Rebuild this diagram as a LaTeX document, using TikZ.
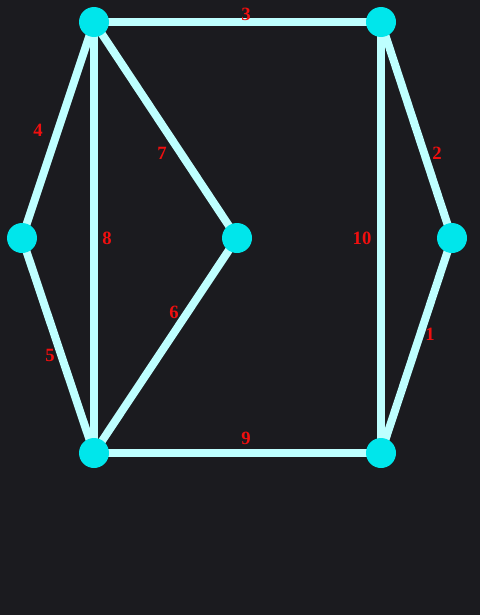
\documentclass[tikz,border=0pt]{standalone}
\usepackage{fontspec}
\setmainfont{Liberation Serif}
\usepackage{tikz}
\usetikzlibrary{backgrounds}
\definecolor{wood}{RGB}{27,27,31}
\definecolor{dotcyan}{RGB}{0,230,235}
\definecolor{linecyan}{RGB}{190,255,255}
\definecolor{numred}{RGB}{240,15,15}

\begin{document}
\begin{tikzpicture}[x=0.03cm,y=-0.03cm,
	vertex/.style={circle, fill=dotcyan, minimum size=0.9cm, inner sep=0pt},
	edge/.style={draw=linecyan, line width=0.24cm},
	num/.style={text=numred, font=\fontsize{16}{16}\selectfont\bfseries, inner sep=0pt}]
	\useasboundingbox (0,0) rectangle (480,615);
	% the vertices
	\node[vertex] (tl) at (94,22) {};
	\node[vertex] (tr) at (381,22) {};
	\node[vertex] (ml) at (22,238) {};
	\node[vertex] (mid) at (237,238) {};
	\node[vertex] (mr) at (452,238) {};
	\node[vertex] (bl) at (94,453) {};
	\node[vertex] (br) at (381,453) {};
	\begin{scope}[on background layer]
		\fill[wood] (0,0) rectangle (480,615);
		\draw[edge] (tl.center) -- (tr.center);
		\draw[edge] (tl.center) -- (ml.center);
		\draw[edge] (tl.center) -- (mid.center);
		\draw[edge] (tl.center) -- (bl.center);
		\draw[edge] (ml.center) -- (bl.center);
		\draw[edge] (mid.center) -- (bl.center);
		\draw[edge] (bl.center) -- (br.center);
		\draw[edge] (tr.center) -- (br.center);
		\draw[edge] (tr.center) -- (mr.center);
		\draw[edge] (mr.center) -- (br.center);
	\end{scope}
	% edge numbers
	\node[num] (n1) at (430,334) {1};
	\node[num] (n2) at (437,153) {2};
	\node[num] (n3) at (246,14) {3};
	\node[num] (n4) at (38,130) {4};
	\node[num] (n5) at (50,355) {5};
	\node[num] (n6) at (174,312) {6};
	\node[num] (n7) at (162,153) {7};
	\node[num] (n8) at (107,238) {8};
	\node[num] (n9) at (246,438) {9};
	\node[num] (n10) at (362,238) {10};
\end{tikzpicture}
\end{document}
